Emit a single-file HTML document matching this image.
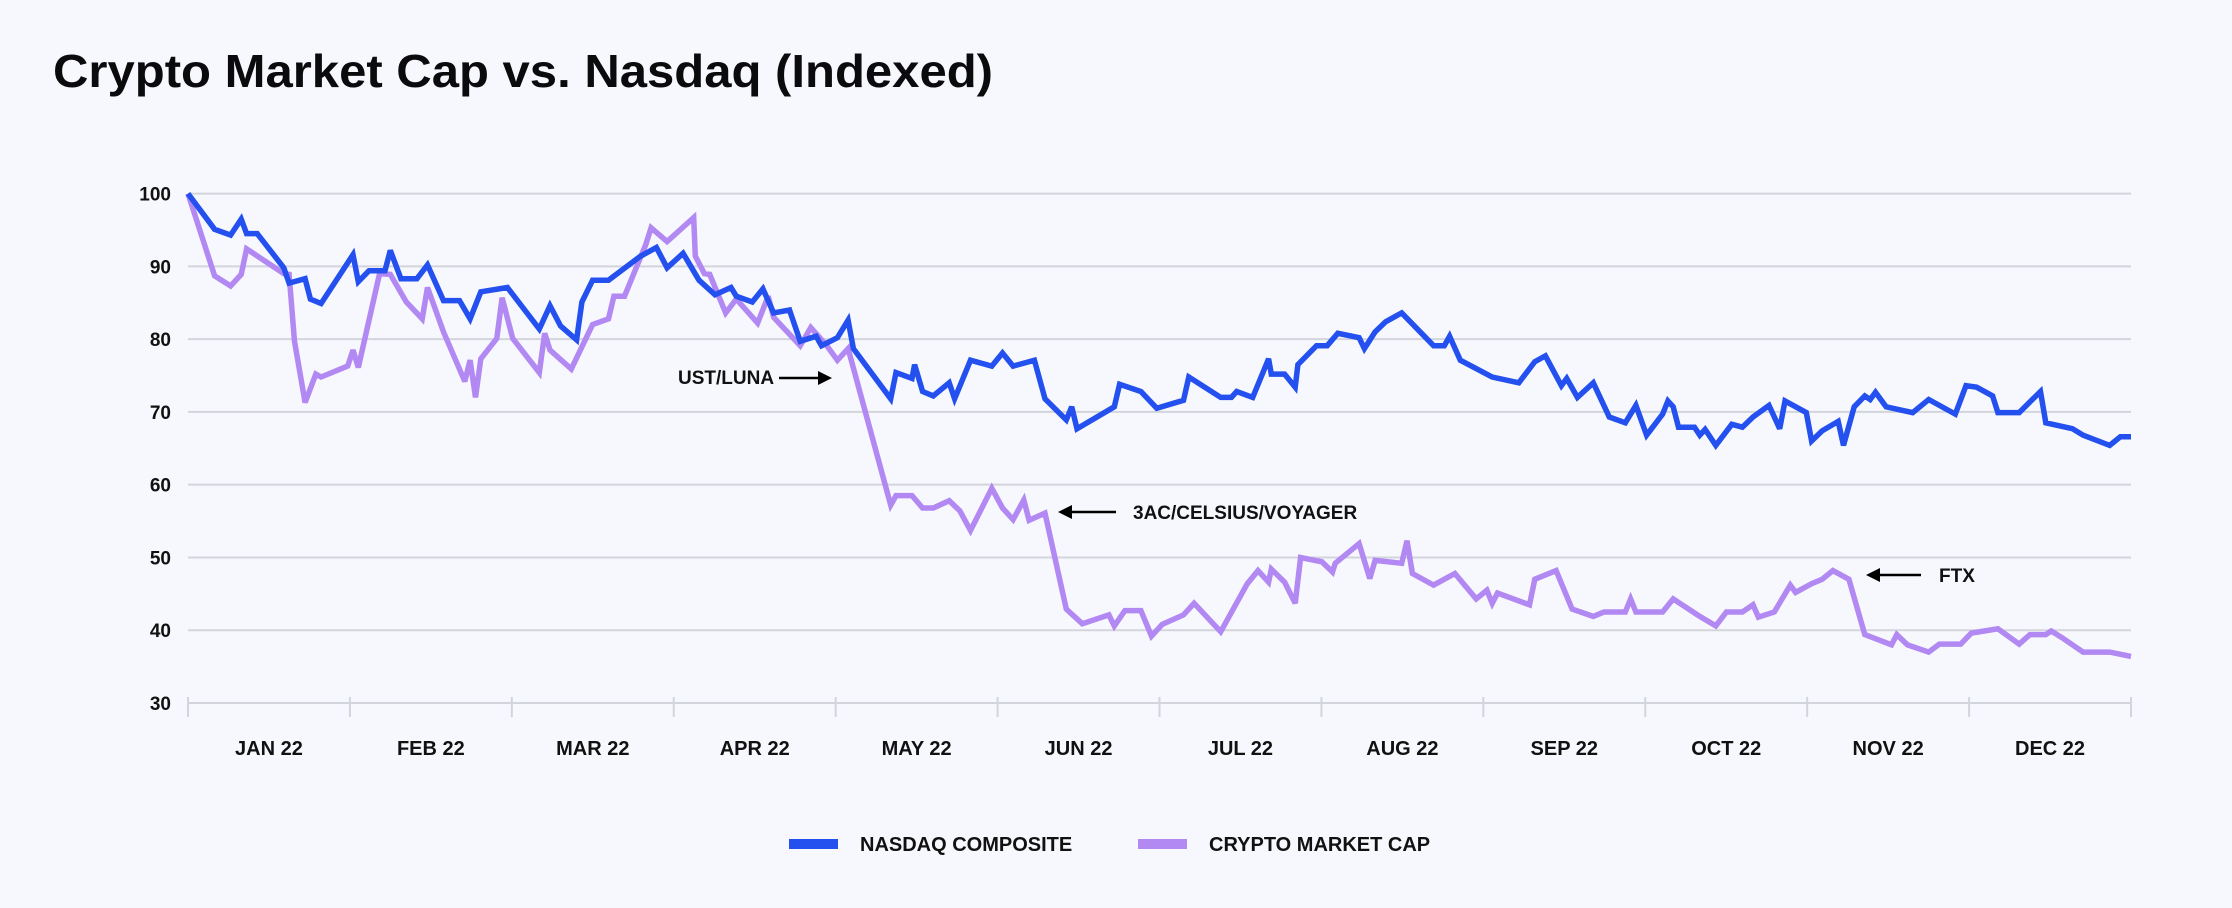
<!DOCTYPE html>
<html><head><meta charset="utf-8"><style>
html,body{margin:0;padding:0;background:#f7f8fd;}
svg{display:block;font-family:"Liberation Sans",sans-serif;}
</style></head><body>
<svg id="chart" width="2232" height="908" viewBox="0 0 2232 908" xmlns="http://www.w3.org/2000/svg">
<rect width="2232" height="908" fill="#f7f8fd"/>
<text x="53" y="87" font-size="46" font-weight="bold" fill="#0b0b0d" textLength="940" lengthAdjust="spacingAndGlyphs">Crypto Market Cap vs. Nasdaq (Indexed)</text>
<g id="grid"></g>
<g id="yaxis"></g>
<g id="xaxis"></g>
<g id="series"></g>
<g>
<text x="678" y="384" font-size="19" font-weight="600" fill="#111">UST/LUNA</text>
<line x1="779" y1="378" x2="820" y2="378" stroke="#000" stroke-width="2.5"/>
<polygon points="832,378 818,371 818,385" fill="#000"/>
</g>
<g>
<text x="1133" y="519" font-size="19" font-weight="600" fill="#111">3AC/CELSIUS/VOYAGER</text>
<line x1="1070" y1="512" x2="1116" y2="512" stroke="#000" stroke-width="2.5"/>
<polygon points="1058,512 1072,505 1072,519" fill="#000"/>
</g>
<g>
<text x="1939" y="582" font-size="19" font-weight="600" fill="#111">FTX</text>
<line x1="1878" y1="575" x2="1921" y2="575" stroke="#000" stroke-width="2.5"/>
<polygon points="1866,575 1880,568 1880,582" fill="#000"/>
</g>
<g>
<g>
<rect x="789" y="839" width="49" height="10" fill="#2350ee"/>
<text x="860" y="851" font-size="20" font-weight="600" fill="#111">NASDAQ COMPOSITE</text>
</g>
<g>
<rect x="1138" y="839" width="49" height="10" fill="#b288f3"/>
<text x="1209" y="851" font-size="20" font-weight="600" fill="#111">CRYPTO MARKET CAP</text>
</g>
</g>
</svg>
<script>
const yTicks = [30,40,50,60,70,80,90,100];
const monthLabels = ["JAN 22","FEB 22","MAR 22","APR 22","MAY 22","JUN 22","JUL 22","AUG 22","SEP 22","OCT 22","NOV 22","DEC 22"];
const nasdaqDays = [0,5,8,10,11,13,18,19,22,23,25,31,32,34,37,38,40,43,45,48,51,53,55,60,66,68,70,73,74,76,79,85,88,90,93,96,99,102,103,106,108,110,113,115,118,119,122,124,125,132,133,136,136.5,138,140,143,144,147,151,153,155,159,161,165,166,167,174,175,179,182,187,188,194,196,197,200,203,203.5,206,208,208.5,212,214,216,220,221,223,225,228,234,236,237,239,245,250,253,255,258,259,261,264,267,270,272,274,277,278,279,280,283,284,285,287,290,292,294,297,299,300,304,305,307,310,311,313,315,316,317,319,324,327,332,334,336,339,340,344,348,349,354,356,361,363,365];
const nasdaqValues = [100,95.1,94.3,96.5,94.5,94.5,89.8,87.7,88.3,85.5,84.9,91.6,87.9,89.4,89.4,92.2,88.3,88.3,90.2,85.3,85.3,82.8,86.5,87.1,81.4,84.6,81.8,79.9,85.1,88.1,88.1,91.4,92.6,89.8,91.8,88.1,86.1,87.1,85.9,85.1,86.9,83.6,84.0,79.7,80.4,79.1,80.2,82.6,78.7,71.8,75.4,74.6,76.5,72.8,72.2,74.0,71.8,77.1,76.3,78.1,76.3,77.1,71.8,68.9,70.7,67.7,70.7,73.8,72.8,70.5,71.6,74.8,72.0,72.0,72.8,72.0,77.3,75.2,75.2,73.4,76.5,79.1,79.1,80.8,80.2,78.7,81.0,82.4,83.6,79.1,79.1,80.4,77.1,74.8,74.0,76.9,77.7,73.6,74.6,72.0,74.0,69.3,68.5,70.9,66.8,69.7,71.5,70.7,67.9,67.9,66.8,67.6,65.4,68.3,67.9,69.3,70.9,67.7,71.5,69.9,66.0,67.4,68.7,65.4,70.7,72.2,71.7,72.7,70.7,69.9,71.7,69.7,73.6,73.4,72.2,69.9,69.9,72.8,68.5,67.7,66.8,65.4,66.6,66.6];
const cryptoDays = [0,5,8,10,11,18,19,20,22,24,25,30,31,32,36,38,41,44,45,48,52,53,54,55,58,59,61,66,67,68,72,76,79,80,82,86,87,90,95,95.3,97,98,101,103,107,109,110,115,117,120,122,124,132,133,136,138,140,143,145,147,151,153,155,157,158,161,165,168,173,174,176,179,181,183,187,189,194,199,201,203,203.5,206,208,209,213,215,215.5,220,222,223,228,229,230,234,238,242,244,245,246,252,253,257,260,264,266,270,271,272,277,279,284,287,289,292,294,295,298,301,302,305,307,309,312,315,320,321,323,327,329,333,335,340,344,346,349,350,352,356,361,365];
const cryptoValues = [100,88.7,87.3,88.9,92.4,89.0,88.9,79.7,71.3,75.2,74.8,76.3,78.5,76.1,89.0,88.9,85.1,82.8,87.1,81.0,74.2,77.1,72.0,77.3,80.1,85.7,80.1,75.4,80.8,78.5,75.9,82.0,82.8,85.9,85.9,93.0,95.3,93.4,96.7,91.4,89.0,88.9,83.6,85.5,82.2,85.9,83.0,79.1,81.6,79.1,77.1,78.7,57.2,58.5,58.5,56.8,56.8,57.8,56.4,53.7,59.5,56.8,55.2,57.9,55.1,56.1,42.9,40.9,42.1,40.6,42.7,42.7,39.2,40.8,42.1,43.7,39.8,46.4,48.2,46.6,48.4,46.6,43.7,50.0,49.4,48.0,49.2,51.9,47.1,49.6,49.2,52.3,47.8,46.2,47.8,44.3,45.5,43.7,45.1,43.5,47.0,48.2,42.9,41.9,42.5,42.5,44.3,42.5,42.5,44.3,41.9,40.6,42.5,42.5,43.5,41.8,42.5,46.2,45.2,46.4,47.0,48.2,47.0,39.4,38.0,39.4,38.0,37.0,38.1,38.1,39.6,40.2,38.1,39.4,39.4,39.9,39.0,37.0,37.0,36.4];

const NS = "http://www.w3.org/2000/svg";
const X0 = 188, X1 = 2131, Y30 = 703, Y100 = 193.6;
function xScale(d){ return X0 + d * (X1 - X0) / 365; }
function monthX(i){ return X0 + i * (X1 - X0) / monthLabels.length; }
function yScale(v){ return Y30 - (v - 30) * (Y30 - Y100) / 70; }
function mk(tag, attrs, parent){ const e = document.createElementNS(NS, tag); for (const k in attrs) e.setAttribute(k, attrs[k]); parent.appendChild(e); return e; }

const grid = document.getElementById('grid');
const yaxis = document.getElementById('yaxis');
yTicks.forEach(v => {
  const l = mk('line', {x1: X0, x2: X1, y1: yScale(v), y2: yScale(v), stroke: '#d3d5dc', 'stroke-width': 2}, grid);
  
  
  const t = mk('text', {x: 171, y: yScale(v) + 7, 'font-size': 19, 'font-weight': 600, fill: '#111', 'text-anchor': 'end'}, yaxis);
  t.textContent = v;
  
  
});
const xaxis = document.getElementById('xaxis');
for (let i = 0; i <= monthLabels.length; i++) {
  const tk = mk('line', {x1: monthX(i), x2: monthX(i), y1: Y30 - 6, y2: Y30 + 14, stroke: '#d3d5dc', 'stroke-width': 2}, xaxis);
  
  
  if (i < monthLabels.length) {
    const cx = (monthX(i) + monthX(i+1)) / 2;
    const t = mk('text', {x: cx, y: 755, 'font-size': 20, 'font-weight': 600, fill: '#111', 'text-anchor': 'middle'}, xaxis);
    t.textContent = monthLabels[i];
    
    
  }
}
const series = document.getElementById('series');
function drawLine(days, vals, color, name){
  const pts = days.map((d, i) => xScale(d).toFixed(1) + ',' + yScale(vals[i]).toFixed(1)).join(' ');
  const p = mk('polyline', {points: pts, fill: 'none', stroke: color, 'stroke-width': 5.5, 'stroke-linejoin': 'miter', 'stroke-miterlimit': 3}, series);
  
  
}
drawLine(cryptoDays, cryptoValues, '#b288f3', 'crypto-market-cap-line');
drawLine(nasdaqDays, nasdaqValues, '#2350ee', 'nasdaq-composite-line');
</script>
</body></html>
